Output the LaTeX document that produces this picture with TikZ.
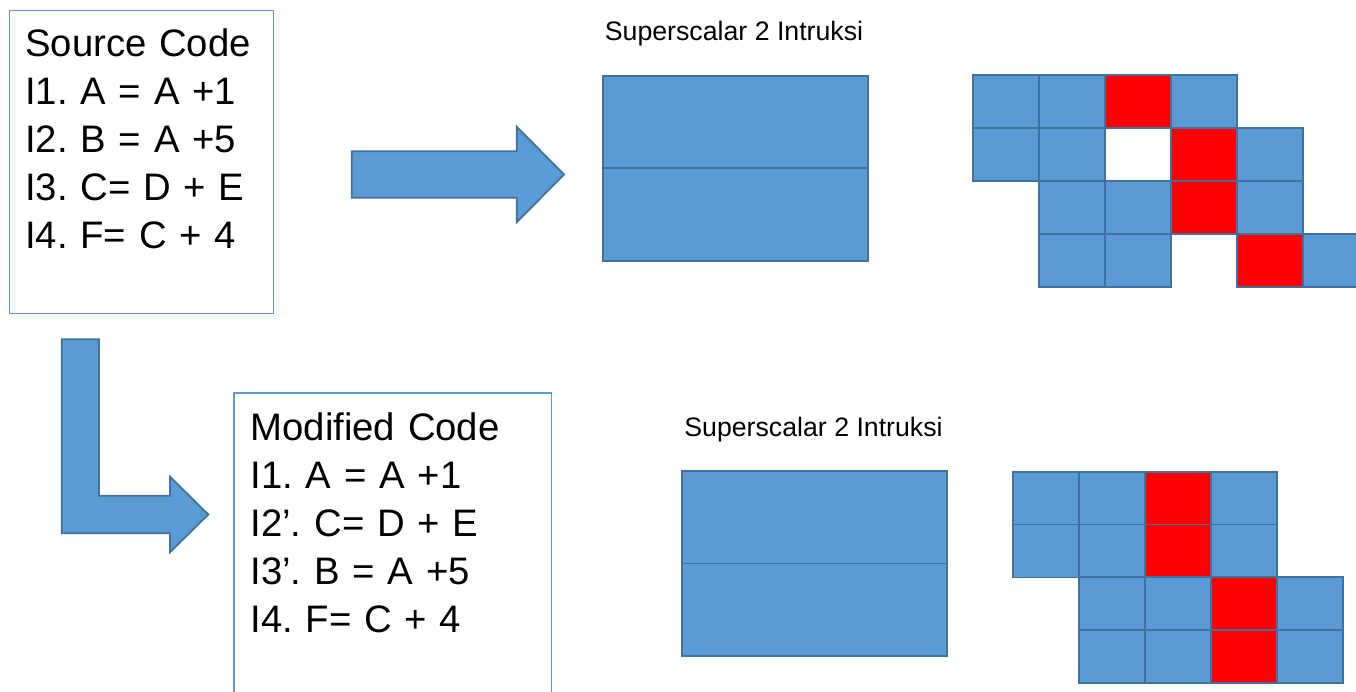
\documentclass[tikz,border=0pt]{standalone}
\usepackage{fontspec}
\setmainfont{Liberation Sans}
\usetikzlibrary{positioning}
\frenchspacing
\definecolor{blockfill}{RGB}{91,155,213}
\definecolor{blockline}{RGB}{65,113,156}
\definecolor{hazard}{RGB}{255,0,0}
\newcommand{\codefont}{\fontsize{21.8}{27.3}\selectfont\fontdimen2\font=0.21em\relax}
\tikzset{
  codebox/.style   ={draw=blockfill, line width=0.8pt, align=left, anchor=north west, inner ysep=0pt,
                     font=\codefont},
  stage/.style     ={draw=blockline, fill=blockfill, line width=1pt, minimum width=53mm, minimum height=18.5mm,
                     inner sep=0pt, outer sep=0pt, anchor=north west},
  cell/.style      ={draw=blockline, fill=blockfill, line width=1pt, minimum width=13.2mm, minimum height=10.6mm,
                     inner sep=0pt, outer sep=0pt, anchor=north west},
  blockarrow/.style={draw=blockline, fill=blockfill, line width=1pt, line join=miter},
  lbl/.style       ={font=\fontsize{15.2}{17}\selectfont, anchor=base, inner sep=0pt}
}

\begin{document}
\begin{tikzpicture}[x=0.2mm, y=-0.2mm]
  \clip (0,0) rectangle (1356,691);
  \node[codebox, inner xsep=3.1mm, text width=46.6mm, minimum height=60.6mm] (src) at (9,10)
    {Source Code\\I1. A = A +1\\I2. B = A +5\\I3. C= D + E\\I4. F= C + 4\\\mbox{}};
  \node[codebox, inner xsep=3.3mm, text width=56.9mm, minimum height=61.3mm] (mod) at (233.3,392.3)
    {Modified Code\\I1. A = A +1\\I2’. C= D + E\\I3’. B = A +5\\I4. F= C + 4\\\mbox{}};
  \draw[blockarrow] (351.7,151.3) -- (516.7,151.3) -- (516.7,126.7) -- (564,174.5) -- (516.7,222.3)
    -- (516.7,197.7) -- (351.7,197.7) -- cycle;
  \draw[blockarrow] (61.7,339.3) -- (99,339.3) -- (99,495.7) -- (170,495.7) -- (170,476.7) -- (208.3,514.5)
    -- (170,552.3) -- (170,533.3) -- (61.7,533.3) -- cycle;
  \node[lbl] (lab1) at (734,41) {Superscalar 2 Intruksi};
  \node[stage] (pipe1a) at (602.7,75.7) {};
  \node[stage, below=0pt of pipe1a] (pipe1b) {};
  \node[lbl] (lab2) at (813.5,436) {Superscalar 2 Intruksi};
  \node[stage] (pipe2a) at (682,471) {};
  \node[stage, below=0pt of pipe2a] (pipe2b) {};
  \foreach \c/\r/\f in {0/0/blockfill,1/0/blockfill,2/0/hazard,3/0/blockfill,
                        0/1/blockfill,1/1/blockfill,2/1/white,3/1/hazard,4/1/blockfill,
                        1/2/blockfill,2/2/blockfill,3/2/hazard,4/2/blockfill,
                        1/3/blockfill,2/3/blockfill,4/3/hazard,5/3/blockfill}
    \node[cell, fill=\f] (top-\c-\r) at ({972.7+66*\c},{75+53*\r}) {};
  \foreach \c/\r/\f in {0/0/blockfill,1/0/blockfill,2/0/hazard,3/0/blockfill,
                        0/1/blockfill,1/1/blockfill,2/1/hazard,3/1/blockfill,
                        1/2/blockfill,2/2/blockfill,3/2/hazard,4/2/blockfill,
                        1/3/blockfill,2/3/blockfill,3/3/hazard,4/3/blockfill}
    \node[cell, fill=\f] (bot-\c-\r) at ({1012.7+66*\c},{471.7+52.75*\r}) {};
\end{tikzpicture}
\end{document}
